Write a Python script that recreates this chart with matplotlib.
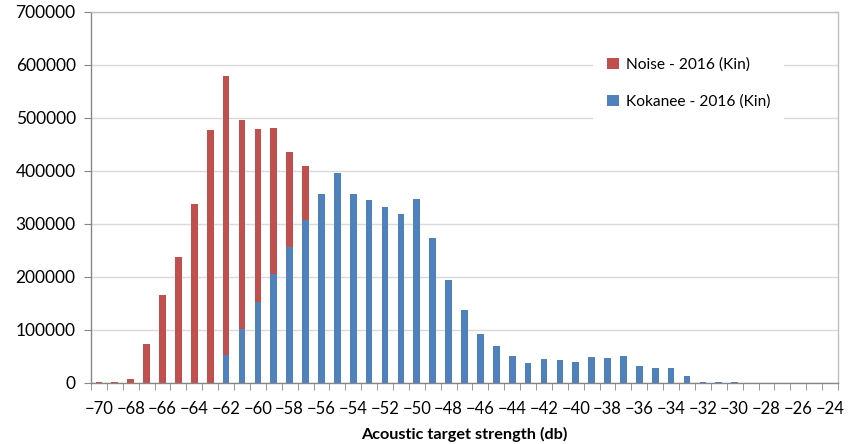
# =============================================================================
# Acoustic target strength distribution – Kin 2016
# Stacked counts per 1 dB bin: Kokanee (bottom) and Noise (top)
# =============================================================================

# --- Imports -----------------------------------------------------------------

import numpy as np
import matplotlib
matplotlib.use("Agg")
from matplotlib import pyplot as plt
from matplotlib.ticker import MultipleLocator, FixedLocator

plt.rcParams['font.family'] = ['Lato', 'DejaVu Sans']

# --- Data --------------------------------------------------------------------

target_strength = list(range(-70, -23))   # -70 ... -24 dB, one bin per dB

kokanee = [
    0, 0, 0, 0, 0, 0, 0, 0,                                  # -70 .. -63
    52000, 101500, 152500, 205000, 256000, 307000,           # -62 .. -57
    357000, 396500, 357000, 345000, 331000, 318000, 347000,  # -56 .. -50
    274000, 194000, 138000, 93000, 69000, 50000, 38500,      # -49 .. -43
    44500, 42500, 39000, 48500, 47500, 51000, 32500,         # -42 .. -36
    28000, 28000, 12700, 1500, 1200, 1000,                   # -35 .. -30
    0, 0, 0, 0, 0, 0,                                        # -29 .. -24
]

noise = [
    1500, 1500, 7500, 73500, 166500, 236500, 337500, 477000,  # -70 .. -63
    527000, 394000, 326500, 276000, 179500, 101500,           # -62 .. -57
] + [0] * 33                                                  # -56 .. -24

noise_label = "Noise - 2016 (Kin)"
kokanee_label = "Kokanee - 2016 (Kin)"

red = "#C0504D"
blue = "#4F81BD"

# --- Figure ------------------------------------------------------------------

fig = plt.figure(figsize=(8.48, 4.44), dpi=100)
ax = fig.add_axes([0.1073, 0.1374, 0.8809, 0.8366])

x = np.array(target_strength)
kok_bars = ax.bar(x, kokanee, width=0.42, color=blue, zorder=2)
noise_bars = ax.bar(x, noise, width=0.42, bottom=kokanee, color=red, zorder=2)

# --- Axes styling ------------------------------------------------------------

ax.set_xlim(-70.5, -23.5)
ax.set_ylim(0, 700000)

ax.xaxis.set_minor_locator(FixedLocator(np.arange(-70.5, -23.0, 1.0)))
ax.set_xticks(range(-70, -23, 2))
ax.tick_params(axis='x', which='major', length=0, pad=13, labelsize=12)
ax.tick_params(axis='x', which='minor', length=5, color="#868686", direction='out')

ax.yaxis.set_major_locator(MultipleLocator(100000))
ax.tick_params(axis='y', length=5, color="#868686", direction='out', pad=6, labelsize=12.5)

ax.grid(axis='y', color="#D9D9D9", linewidth=1.0, zorder=0)

for side in ['left', 'bottom']:
    ax.spines[side].set_color("#868686")
    ax.spines[side].set_linewidth(1.0)
for side in ['top', 'right']:
    ax.spines[side].set_color("#BFBFBF")
    ax.spines[side].set_linewidth(1.0)

ax.set_xlabel("Acoustic target strength (db)", fontsize=11.7, fontweight='bold', labelpad=7)

# --- Legend ------------------------------------------------------------------

leg = ax.legend(
    [noise_bars, kok_bars], [noise_label, kokanee_label],
    loc='upper left', bbox_to_anchor=(0.662, 0.935),
    frameon=True, facecolor='white', edgecolor='none', framealpha=1.0,
    fancybox=False, fontsize=11.2,
    handlelength=0.75, handleheight=0.75, handletextpad=0.45,
    labelspacing=1.45, borderpad=0.9,
)
leg.set_zorder(5)

fig.savefig("out.png", dpi=100)
